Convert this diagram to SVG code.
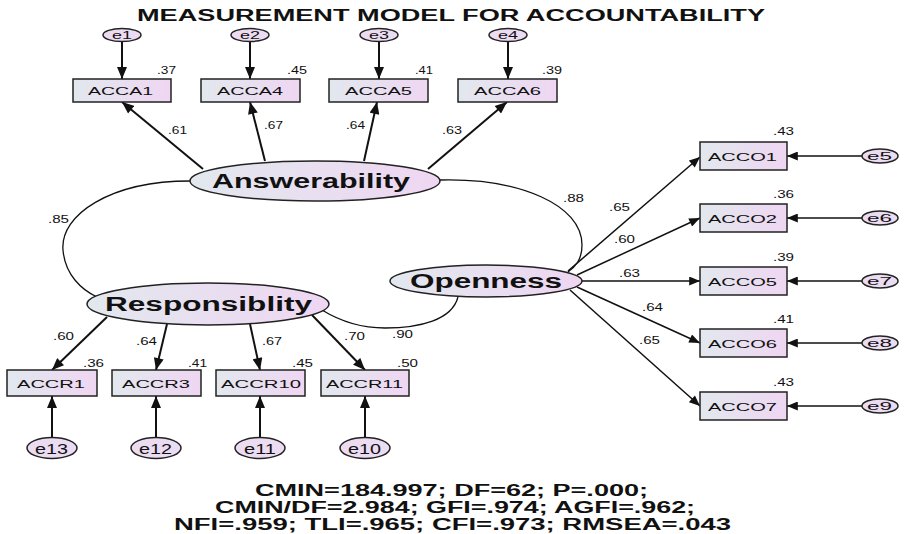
<svg xmlns="http://www.w3.org/2000/svg" width="910" height="534" viewBox="0 0 910 534">
<defs>
<linearGradient id="g" x1="0" y1="0" x2="1" y2="0">
<stop offset="0" stop-color="#e2e8ee"/>
<stop offset="1" stop-color="#efd6f2"/>
</linearGradient>
<marker id="a" viewBox="0 0 12 10" refX="12" refY="5" markerWidth="13" markerHeight="10" markerUnits="userSpaceOnUse" orient="auto">
<path d="M0,0 L12,5 L0,10 z" fill="#111"/>
</marker>
<marker id="s" viewBox="0 0 12 10" refX="12" refY="5" markerWidth="12" markerHeight="9" markerUnits="userSpaceOnUse" orient="auto">
<path d="M0,0 L12,5 L0,10 z" fill="#111"/>
</marker>
</defs>
<style>
text{font-family:"Liberation Sans",Arial,sans-serif;fill:#111}
.t{font-size:16px;font-weight:bold}
.lv{font-size:20px;font-weight:bold}
.bx{font-size:11px}
.n{font-size:10px}
.e{font-size:11px}
.eb{font-size:14px}
.box{fill:url(#g);stroke:#222;stroke-width:1.5}
.lat{fill:url(#g);stroke:#222;stroke-width:1.5}
.err{fill:#ecdcf2;stroke:#222;stroke-width:1.5}
.ln{stroke:#111;stroke-width:2;fill:none}
.th{stroke:#111;stroke-width:1.5;fill:none}
.cv{stroke:#111;stroke-width:1.3;fill:none}
</style>
<rect width="910" height="534" fill="#fff"/>
<text class="t" x="137" y="21" textLength="628" lengthAdjust="spacingAndGlyphs">MEASUREMENT MODEL FOR ACCOUNTABILITY</text>

<g id="connectors">
<line class="ln" x1="122" y1="41" x2="122" y2="79" marker-end="url(#a)"/>
<line class="ln" x1="250" y1="41" x2="250" y2="79" marker-end="url(#a)"/>
<line class="ln" x1="379" y1="41" x2="379" y2="79" marker-end="url(#a)"/>
<line class="ln" x1="508" y1="41" x2="508" y2="79" marker-end="url(#a)"/>
<line class="ln" x1="203" y1="169" x2="122" y2="102" marker-end="url(#a)"/>
<line class="ln" x1="265" y1="161" x2="250" y2="102" marker-end="url(#a)"/>
<line class="ln" x1="364" y1="161" x2="377" y2="102" marker-end="url(#a)"/>
<line class="ln" x1="428" y1="169" x2="507" y2="102" marker-end="url(#a)"/>
<line class="th" x1="568" y1="271" x2="700" y2="157" marker-end="url(#s)"/>
<line class="th" x1="577" y1="275" x2="700" y2="218" marker-end="url(#s)"/>
<line class="th" x1="582" y1="281" x2="700" y2="281" marker-end="url(#s)"/>
<line class="th" x1="577" y1="287" x2="700" y2="343" marker-end="url(#s)"/>
<line class="th" x1="570" y1="290" x2="700" y2="406" marker-end="url(#s)"/>
<line class="th" x1="862" y1="156" x2="787" y2="156" marker-end="url(#s)"/>
<line class="th" x1="862" y1="218" x2="787" y2="218" marker-end="url(#s)"/>
<line class="th" x1="862" y1="281" x2="787" y2="281" marker-end="url(#s)"/>
<line class="th" x1="862" y1="343" x2="787" y2="343" marker-end="url(#s)"/>
<line class="th" x1="862" y1="406" x2="787" y2="406" marker-end="url(#s)"/>
<line class="ln" x1="107" y1="317" x2="52" y2="370" marker-end="url(#a)"/>
<line class="ln" x1="167" y1="324" x2="156" y2="370" marker-end="url(#a)"/>
<line class="ln" x1="250" y1="324" x2="260" y2="370" marker-end="url(#a)"/>
<line class="ln" x1="312" y1="315" x2="365" y2="370" marker-end="url(#a)"/>
<line class="ln" x1="52" y1="437" x2="52" y2="396" marker-end="url(#a)"/>
<line class="ln" x1="156" y1="437" x2="156" y2="396" marker-end="url(#a)"/>
<line class="ln" x1="260" y1="437" x2="260" y2="396" marker-end="url(#a)"/>
<line class="ln" x1="365" y1="437" x2="365" y2="396" marker-end="url(#a)"/>
<path class="cv" d="M190,181 C110,181 60,215 63,250 C65,275 82,290 97,297"/>
<path class="cv" d="M440,180 C520,178 582,205 582,245 C582,260 575,267 568,272"/>
<path class="cv" d="M458,297 C452,320 420,328 385,328 C355,328 335,318 322,310"/>
</g>

<g id="labels">
<text class="n" x="157" y="74" textLength="19" lengthAdjust="spacingAndGlyphs">.37</text>
<text class="n" x="287" y="74" textLength="20" lengthAdjust="spacingAndGlyphs">.45</text>
<text class="n" x="415" y="74" textLength="18" lengthAdjust="spacingAndGlyphs">.41</text>
<text class="n" x="542" y="74" textLength="20" lengthAdjust="spacingAndGlyphs">.39</text>
<text class="n" x="168" y="134" textLength="19" lengthAdjust="spacingAndGlyphs">.61</text>
<text class="n" x="264" y="129" textLength="19" lengthAdjust="spacingAndGlyphs">.67</text>
<text class="n" x="346" y="129" textLength="19" lengthAdjust="spacingAndGlyphs">.64</text>
<text class="n" x="442" y="134" textLength="20" lengthAdjust="spacingAndGlyphs">.63</text>
<text class="n" x="773" y="135" textLength="21" lengthAdjust="spacingAndGlyphs">.43</text>
<text class="n" x="773" y="198" textLength="21" lengthAdjust="spacingAndGlyphs">.36</text>
<text class="n" x="773" y="261" textLength="21" lengthAdjust="spacingAndGlyphs">.39</text>
<text class="n" x="773" y="323" textLength="21" lengthAdjust="spacingAndGlyphs">.41</text>
<text class="n" x="773" y="386" textLength="21" lengthAdjust="spacingAndGlyphs">.43</text>
<text class="n" x="609" y="211" textLength="21" lengthAdjust="spacingAndGlyphs">.65</text>
<text class="n" x="614" y="243" textLength="21" lengthAdjust="spacingAndGlyphs">.60</text>
<text class="n" x="619" y="277" textLength="21" lengthAdjust="spacingAndGlyphs">.63</text>
<text class="n" x="642" y="311" textLength="21" lengthAdjust="spacingAndGlyphs">.64</text>
<text class="n" x="639" y="344" textLength="21" lengthAdjust="spacingAndGlyphs">.65</text>
<text class="n" x="563" y="202" textLength="21" lengthAdjust="spacingAndGlyphs">.88</text>
<text class="n" x="392" y="338" textLength="21" lengthAdjust="spacingAndGlyphs">.90</text>
<text class="n" x="48" y="223" textLength="21" lengthAdjust="spacingAndGlyphs">.85</text>
<text class="n" x="53" y="340" textLength="21" lengthAdjust="spacingAndGlyphs">.60</text>
<text class="n" x="136" y="345" textLength="21" lengthAdjust="spacingAndGlyphs">.64</text>
<text class="n" x="262" y="345" textLength="20" lengthAdjust="spacingAndGlyphs">.67</text>
<text class="n" x="344" y="340" textLength="21" lengthAdjust="spacingAndGlyphs">.70</text>
<text class="n" x="83" y="367" textLength="21" lengthAdjust="spacingAndGlyphs">.36</text>
<text class="n" x="188" y="367" textLength="19" lengthAdjust="spacingAndGlyphs">.41</text>
<text class="n" x="292" y="367" textLength="21" lengthAdjust="spacingAndGlyphs">.45</text>
<text class="n" x="397" y="367" textLength="21" lengthAdjust="spacingAndGlyphs">.50</text>
</g>

<g id="e1"><ellipse class="err" cx="122" cy="35" rx="19" ry="6.5"/><text class="e" x="112" y="39" textLength="20" lengthAdjust="spacingAndGlyphs">e1</text></g>
<g id="e2"><ellipse class="err" cx="250" cy="35" rx="19" ry="6.5"/><text class="e" x="240" y="39" textLength="20" lengthAdjust="spacingAndGlyphs">e2</text></g>
<g id="e3"><ellipse class="err" cx="379" cy="35" rx="19" ry="6.5"/><text class="e" x="369" y="39" textLength="20" lengthAdjust="spacingAndGlyphs">e3</text></g>
<g id="e4"><ellipse class="err" cx="508" cy="35" rx="19" ry="6.5"/><text class="e" x="498" y="39" textLength="20" lengthAdjust="spacingAndGlyphs">e4</text></g>

<g id="ACCA1"><rect class="box" x="73" y="79" width="98" height="23"/><text class="bx" x="88" y="95" textLength="65" lengthAdjust="spacingAndGlyphs">ACCA1</text></g>
<g id="ACCA4"><rect class="box" x="201" y="79" width="99" height="23"/><text class="bx" x="217" y="95" textLength="66" lengthAdjust="spacingAndGlyphs">ACCA4</text></g>
<g id="ACCA5"><rect class="box" x="329" y="79" width="99" height="23"/><text class="bx" x="345" y="95" textLength="67" lengthAdjust="spacingAndGlyphs">ACCA5</text></g>
<g id="ACCA6"><rect class="box" x="458" y="79" width="99" height="23"/><text class="bx" x="474" y="95" textLength="67" lengthAdjust="spacingAndGlyphs">ACCA6</text></g>

<g id="Answerability"><ellipse class="lat" cx="315" cy="181" rx="125" ry="20"/><text class="lv" x="212" y="188" textLength="198" lengthAdjust="spacingAndGlyphs">Answerability</text></g>
<g id="Openness"><ellipse class="lat" cx="486" cy="281" rx="96" ry="16"/><text class="lv" x="410" y="288" textLength="152" lengthAdjust="spacingAndGlyphs">Openness</text></g>
<g id="Responsiblity"><ellipse class="lat" cx="208" cy="304" rx="121" ry="21"/><text class="lv" x="105" y="311" textLength="207" lengthAdjust="spacingAndGlyphs">Responsiblity</text></g>

<g id="ACCO1"><rect class="box" x="700" y="142" width="87" height="28"/><text class="bx" x="708" y="161" textLength="69" lengthAdjust="spacingAndGlyphs">ACCO1</text></g>
<g id="ACCO2"><rect class="box" x="700" y="204" width="87" height="28"/><text class="bx" x="708" y="223" textLength="69" lengthAdjust="spacingAndGlyphs">ACCO2</text></g>
<g id="ACCO5"><rect class="box" x="700" y="267" width="87" height="28"/><text class="bx" x="708" y="286" textLength="69" lengthAdjust="spacingAndGlyphs">ACCO5</text></g>
<g id="ACCO6"><rect class="box" x="700" y="329" width="87" height="28"/><text class="bx" x="708" y="348" textLength="69" lengthAdjust="spacingAndGlyphs">ACCO6</text></g>
<g id="ACCO7"><rect class="box" x="700" y="392" width="87" height="28"/><text class="bx" x="708" y="411" textLength="69" lengthAdjust="spacingAndGlyphs">ACCO7</text></g>

<g id="e5"><ellipse class="err" cx="880" cy="156" rx="18" ry="7"/><text class="e" x="867" y="160" textLength="25" lengthAdjust="spacingAndGlyphs">e5</text></g>
<g id="e6"><ellipse class="err" cx="880" cy="218" rx="18" ry="7"/><text class="e" x="867" y="222" textLength="25" lengthAdjust="spacingAndGlyphs">e6</text></g>
<g id="e7"><ellipse class="err" cx="880" cy="281" rx="18" ry="7"/><text class="e" x="867" y="285" textLength="25" lengthAdjust="spacingAndGlyphs">e7</text></g>
<g id="e8"><ellipse class="err" cx="880" cy="343" rx="18" ry="7"/><text class="e" x="867" y="347" textLength="25" lengthAdjust="spacingAndGlyphs">e8</text></g>
<g id="e9"><ellipse class="err" cx="880" cy="406" rx="18" ry="7"/><text class="e" x="867" y="410" textLength="25" lengthAdjust="spacingAndGlyphs">e9</text></g>

<g id="ACCR1"><rect class="box" x="7" y="370" width="90" height="26"/><text class="bx" x="17" y="388" textLength="68" lengthAdjust="spacingAndGlyphs">ACCR1</text></g>
<g id="ACCR3"><rect class="box" x="112" y="370" width="89" height="26"/><text class="bx" x="122" y="388" textLength="68" lengthAdjust="spacingAndGlyphs">ACCR3</text></g>
<g id="ACCR10"><rect class="box" x="216" y="370" width="89" height="26"/><text class="bx" x="221" y="388" textLength="80" lengthAdjust="spacingAndGlyphs">ACCR10</text></g>
<g id="ACCR11"><rect class="box" x="321" y="370" width="88" height="26"/><text class="bx" x="326" y="388" textLength="77" lengthAdjust="spacingAndGlyphs">ACCR11</text></g>

<g id="e13"><ellipse class="err" cx="52" cy="448" rx="25" ry="10.5"/><text class="eb" x="35" y="454" textLength="33" lengthAdjust="spacingAndGlyphs">e13</text></g>
<g id="e12"><ellipse class="err" cx="156" cy="448" rx="25" ry="10.5"/><text class="eb" x="139" y="454" textLength="33" lengthAdjust="spacingAndGlyphs">e12</text></g>
<g id="e11"><ellipse class="err" cx="260" cy="448" rx="25" ry="10.5"/><text class="eb" x="244" y="454" textLength="32" lengthAdjust="spacingAndGlyphs">e11</text></g>
<g id="e10"><ellipse class="err" cx="365" cy="448" rx="25" ry="10.5"/><text class="eb" x="348" y="454" textLength="33" lengthAdjust="spacingAndGlyphs">e10</text></g>

<text class="t" x="255" y="496" textLength="393" lengthAdjust="spacingAndGlyphs">CMIN=184.997; DF=62; P=.000;</text>
<text class="t" x="215" y="513" textLength="480" lengthAdjust="spacingAndGlyphs">CMIN/DF=2.984; GFI=.974; AGFI=.962;</text>
<text class="t" x="174" y="530" textLength="557" lengthAdjust="spacingAndGlyphs">NFI=.959; TLI=.965; CFI=.973; RMSEA=.043</text>
</svg>
